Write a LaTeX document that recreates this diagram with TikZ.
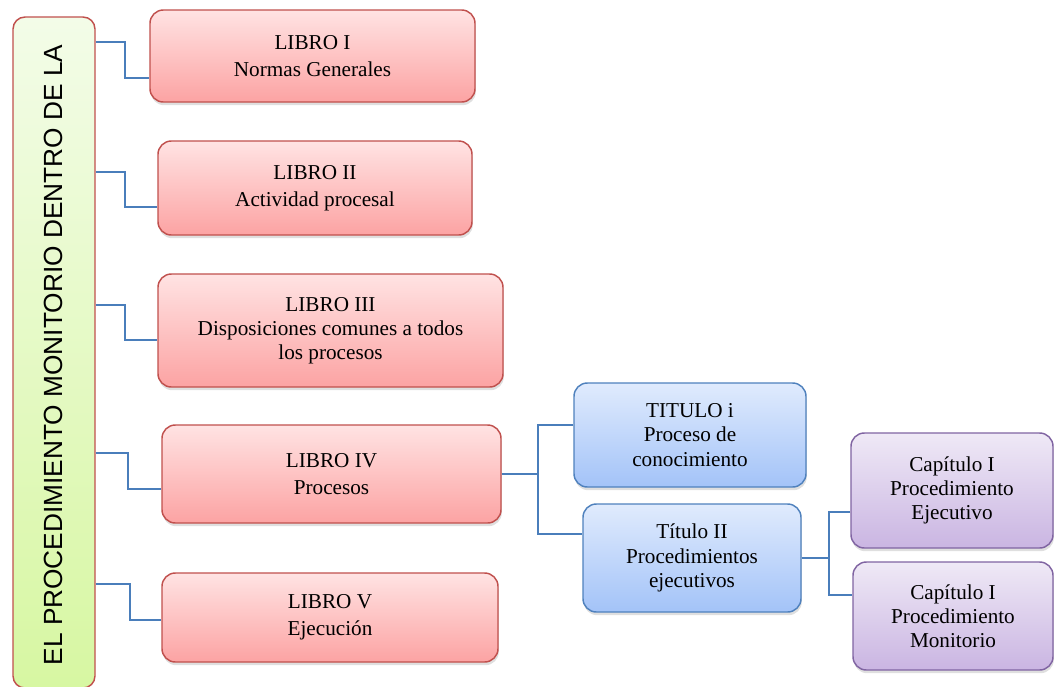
\documentclass[tikz,border=0pt]{standalone}
\usepackage{fontspec}
\setmainfont{Liberation Serif}
\newfontfamily\barfont{Liberation Sans}
\usetikzlibrary{shadows}
\definecolor{redline}{HTML}{C0504D}
\definecolor{redtop}{HTML}{FFE3E3}
\definecolor{redbot}{HTML}{FCA3A3}
\definecolor{blueline}{HTML}{4F81BD}
\definecolor{bluetop}{HTML}{E0EBFD}
\definecolor{bluebot}{HTML}{A3C3F8}
\definecolor{purpline}{HTML}{8064A2}
\definecolor{purptop}{HTML}{EFE9F6}
\definecolor{purpbot}{HTML}{CAB5E2}
\definecolor{greentop}{HTML}{F3FCE8}
\definecolor{greenbot}{HTML}{D7F7A2}
\definecolor{connblue}{HTML}{4A7EBB}
\begin{document}
\begin{tikzpicture}[x=0.75pt,y=-0.75pt,
  every node/.style={inner sep=0pt},
  boxsize/.style 2 args={minimum width=#1*0.75pt, minimum height=#2*0.75pt},
  cbox/.style={rectangle, rounded corners=10pt, line width=1.1pt, align=center,
    font=\fontsize{15.9}{18.2}\selectfont,
    drop shadow={shadow xshift=0.6pt, shadow yshift=-2.4pt, opacity=0.25}},
  twoline/.style={font=\fontsize{15.9}{20.5}\selectfont},
  redbox/.style={cbox, draw=redline, top color=redtop, bottom color=redbot},
  bluebox/.style={cbox, draw=blueline, top color=bluetop, bottom color=bluebot},
  purplebox/.style={cbox, draw=purpline, top color=purptop, bottom color=purpbot},
  barbox/.style={rectangle, rounded corners=9pt, line width=1.1pt, draw=redline,
    top color=greentop, bottom color=greenbot},
  conn/.style={draw=connblue, line width=1.1pt}
]
\useasboundingbox (0,0) rectangle (1054,686);

% left bar
\node[barbox, boxsize={82}{671}] (bar) at (54,352.5) {};
\node[font=\barfont\fontsize{19.7}{22}\selectfont, rotate=90] (bartext) at (53,355)
  {EL PROCEDIMIENTO MONITORIO DENTRO DE LA};

% books
\node[redbox, twoline, boxsize={325}{92}]  (b1) at (312.5,56)   {LIBRO I\\Normas Generales};
\node[redbox, twoline, boxsize={314}{94}]  (b2) at (315,188)    {LIBRO II\\Actividad procesal};
\node[redbox, boxsize={345}{113}] (b3) at (330.5,330.5) {LIBRO III\\Disposiciones comunes a todos\\los procesos};
\node[redbox, twoline, boxsize={339}{98}]  (b4) at (331.5,474)  {LIBRO IV\\Procesos};
\node[redbox, twoline, boxsize={336}{89}]  (b5) at (330,617.5)  {LIBRO V\\Ejecución};

% titles
\node[bluebox, boxsize={232}{104}] (t1) at (690,435) {TITULO i\\Proceso de\\conocimiento};
\node[bluebox, boxsize={218}{108}] (t2) at (692,558) {Título II\\Procedimientos\\ejecutivos};

% chapters
\node[purplebox, boxsize={202}{115}] (c1) at (952,490.5) {Capítulo I\\Procedimiento\\Ejecutivo};
\node[purplebox, boxsize={200}{108}] (c2) at (953,616)   {Capítulo I\\Procedimiento\\Monitorio};

% connectors from bar
\draw[conn] (bar.east |- 0,42)  -- (125,42)  -- (125,78)  -- (b1.west |- 0,78);
\draw[conn] (bar.east |- 0,172) -- (125,172) -- (125,207) -- (b2.west |- 0,207);
\draw[conn] (bar.east |- 0,305) -- (125,305) -- (125,340) -- (b3.west |- 0,340);
\draw[conn] (bar.east |- 0,453) -- (128,453) -- (128,489) -- (b4.west |- 0,489);
\draw[conn] (bar.east |- 0,584) -- (130,584) -- (130,620) -- (b5.west |- 0,620);

% book IV -> titles
\coordinate (j1) at (538,474);
\draw[conn] (b4.east) -- (j1);
\draw[conn] (t1.west |- 0,425) -| (j1 |- 0,534) -- (t2.west |- 0,534);

% title II -> chapters
\coordinate (j2) at (829,558);
\draw[conn] (t2.east) -- (j2);
\draw[conn] (c1.west |- 0,512) -| (j2 |- 0,595) -- (c2.west |- 0,595);
\end{tikzpicture}
\end{document}
